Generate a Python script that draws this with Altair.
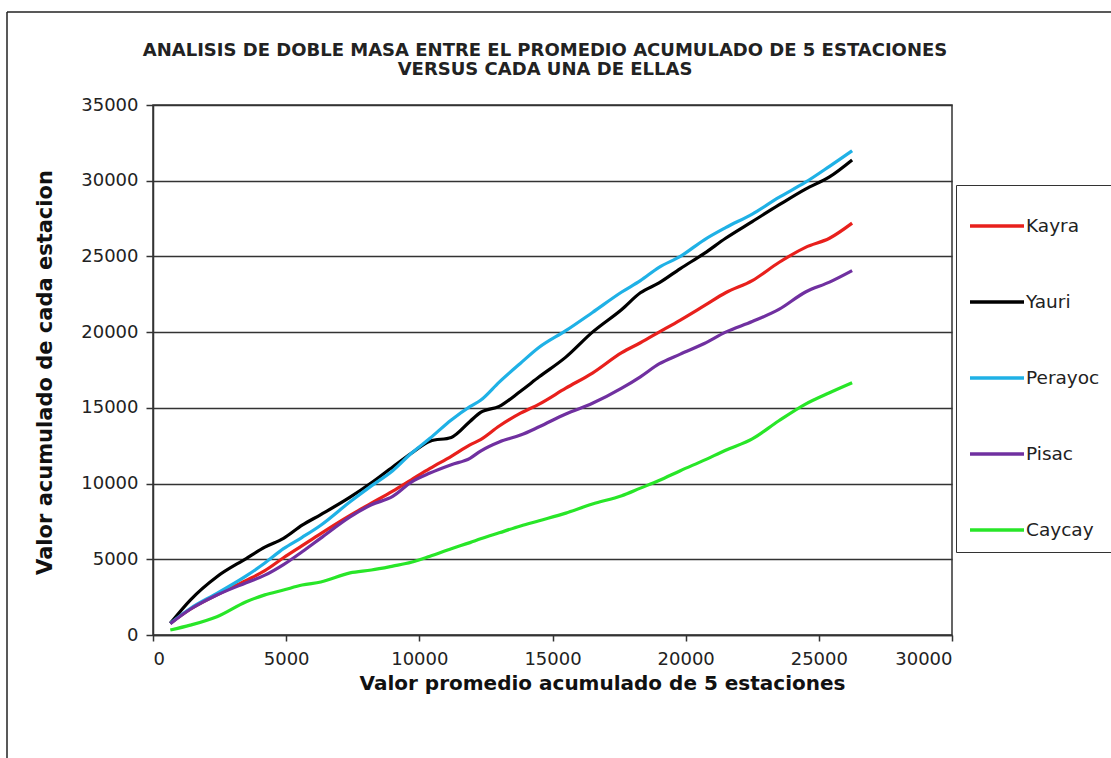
import altair as alt
import pandas as pd

# Cumulative mean of the 5 stations (x axis)
promedio = [650, 1400, 2400, 3500, 4200, 4900, 5600, 6300, 7400, 8200, 9000, 9700,
            10400, 11200, 11900, 12300, 13000, 13800, 14500, 15500, 16500, 17600,
            18300, 19000, 19800, 20700, 21500, 22500, 23500, 24500, 25400, 26250]

# Cumulative values for each station
kayra = [770, 1700, 2650, 3600, 4250, 5100, 5900, 6700, 7900, 8700, 9500, 10250,
         11000, 11800, 12550, 12900, 13800, 14650, 15250, 16300, 17300, 18650,
         19300, 20000, 20800, 21750, 22600, 23400, 24600, 25600, 26200, 27200]
yauri = [770, 2310, 3850, 5050, 5800, 6380, 7250, 7950, 9100, 10050, 11100, 12000,
         12800, 13050, 14100, 14700, 15100, 16100, 17050, 18350, 20000, 21500,
         22600, 23250, 24200, 25200, 26200, 27300, 28400, 29450, 30250, 31370]
perayoc = [770, 1750, 2750, 3900, 4750, 5700, 6450, 7250, 8800, 9850, 10850, 12000,
           12990, 14200, 15080, 15500, 16700, 17950, 19000, 20100, 21300, 22650,
           23400, 24280, 25000, 26100, 26900, 27800, 28900, 29900, 30950, 31980]
pisac = [750, 1700, 2640, 3450, 3950, 4650, 5500, 6400, 7800, 8600, 9150, 10100,
         10700, 11250, 11670, 12150, 12750, 13200, 13750, 14600, 15300, 16300,
         17050, 17900, 18550, 19250, 20000, 20700, 21500, 22650, 23300, 24060]
caycay = [330, 650, 1210, 2200, 2650, 2970, 3300, 3500, 4100, 4290, 4550, 4800,
          5200, 5700, 6100, 6350, 6750, 7200, 7550, 8050, 8650, 9200,
          9700, 10200, 10850, 11550, 12200, 12950, 14150, 15250, 16000, 16660]

estaciones = ["Kayra", "Yauri", "Perayoc", "Pisac", "Caycay"]
colores = ["#e8201c", "#000000", "#1fb1e6", "#7030a0", "#28e628"]
x_ticks = [0, 5000, 10000, 15000, 20000, 25000, 30000]
y_ticks = [0, 5000, 10000, 15000, 20000, 25000, 30000, 35000]
titulo = ["ANALISIS DE DOBLE MASA ENTRE EL PROMEDIO ACUMULADO DE 5 ESTACIONES",
          "VERSUS CADA UNA DE ELLAS"]

series = dict(zip(estaciones, [kayra, yauri, perayoc, pisac, caycay]))
rows = []
for nombre, valores in series.items():
    for i, (px, v) in enumerate(zip(promedio, valores)):
        rows.append({"promedio": px, "valor": v, "estacion": nombre, "i": i})
df = pd.DataFrame(rows)

lines = alt.Chart(df).mark_line(strokeWidth=3.2, interpolate="monotone").encode(
    x=alt.X("promedio:Q",
            scale=alt.Scale(domain=[0, 30000], nice=False),
            axis=alt.Axis(values=x_ticks, format="d", grid=False,
                          title="Valor promedio acumulado  de 5 estaciones",
                          titleX=449, titleY=48, titleBaseline="middle",
                          titleAnchor="start", titleAlign="center")),
    y=alt.Y("valor:Q",
            scale=alt.Scale(domain=[0, 35000], nice=False),
            axis=alt.Axis(values=y_ticks, format="d", grid=True,
                          title="Valor acumulado de cada estacion",
                          titleX=-108, titleY=267, titleBaseline="middle",
                          titleAlign="center", titleAngle=-90)),
    color=alt.Color("estacion:N",
                    scale=alt.Scale(domain=estaciones, range=colores),
                    legend=alt.Legend(orient="none", legendX=803, legendY=80,
                                      title=None, symbolType="stroke",
                                      symbolSize=2916, symbolStrokeWidth=3.5,
                                      labelFont="DejaVu Sans", labelFontSize=18.5,
                                      labelColor="#222", labelOffset=0,
                                      strokeColor="#333", fillColor="white",
                                      padding=12, rowPadding=37)),
    order="i:Q",
)

# chart heading, two lines
one = pd.DataFrame({"k": [0]})
heading = [
    alt.Chart(one).mark_text(
        text=linea, font="DejaVu Sans", fontSize=18, fontWeight="bold",
        color="#222", align="center", baseline="middle"
    ).encode(x=alt.value(392), y=alt.value(dy))
    for linea, dy in zip(titulo, [-54, -35])
]

# outer frame lines (left and top edges)
left_edge = alt.Chart(one).mark_rule(color="#222", strokeWidth=1.5).encode(
    x=alt.value(-146), y=alt.value(-93), y2=alt.value(660))
top_edge = alt.Chart(one).mark_rule(color="#222", strokeWidth=1.5).encode(
    x=alt.value(-146), x2=alt.value(965), y=alt.value(-93))

chart = alt.layer(lines, *heading, left_edge, top_edge).properties(
    width=799, height=530,
    autosize=alt.AutoSizeParams(type="none"),
    padding={"left": 153, "top": 105, "right": 159, "bottom": 123},
).configure_view(
    stroke="#333", strokeWidth=1.5
).configure_axis(
    labelFont="DejaVu Sans", labelFontSize=18, labelColor="#222",
    titleFont="DejaVu Sans", titleFontSize=20, titleFontWeight="bold",
    titleColor="#111", domainColor="#333", domainWidth=1.5,
    tickColor="#333", tickWidth=1.5, gridColor="#333", gridWidth=1.4,
).configure_axisX(
    tickSize=6, labelPadding=9
).configure_axisY(
    tickSize=7, labelPadding=8, titleFontSize=21
)

chart.save("out.html", embed_options={"renderer": "svg", "actions": False})
